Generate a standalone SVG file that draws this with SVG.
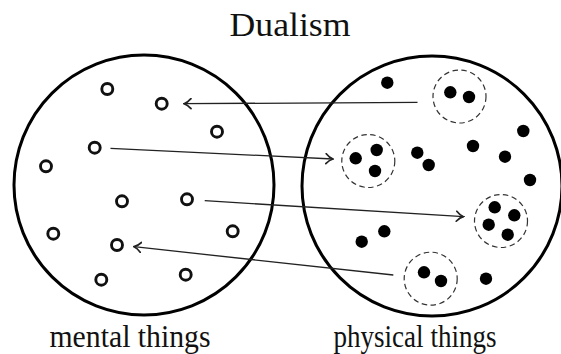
<svg xmlns="http://www.w3.org/2000/svg" width="561" height="354" viewBox="0 0 561 354">
<style>
.big{fill:none;stroke:#000;stroke-width:3}
.m{fill:none;stroke:#111;stroke-width:2.9}
.p{fill:#000}
.grp{fill:none;stroke:#333;stroke-width:1.2;stroke-dasharray:5.5 3.5}
.arr{fill:none;stroke:#222;stroke-width:1.3;marker-end:url(#ah)}
.lbl{font-family:"Liberation Serif","DejaVu Serif",serif;fill:#111;text-anchor:middle}
</style>
<defs>
<marker id="ah" viewBox="-7 -6 9 12" refX="1" refY="0" markerWidth="9" markerHeight="12" markerUnits="userSpaceOnUse" orient="auto">
<path d="M-6,-5 Q-2.5,-1 1,0 Q-2.5,1 -6,5" fill="none" stroke="#222" stroke-width="1.7" stroke-linecap="round"/>
</marker>
</defs>
<rect width="561" height="354" fill="#fff"/>
<text class="lbl" x="290" y="36" font-size="33" textLength="121" lengthAdjust="spacingAndGlyphs">Dualism</text>
<g id="mental">
<circle class="big" cx="144" cy="185" r="130"/>
<circle class="m" cx="107.3" cy="89" r="5.5"/>
<circle class="m" cx="161.7" cy="103.7" r="5.5"/>
<circle class="m" cx="217" cy="131.7" r="5.5"/>
<circle class="m" cx="94.7" cy="147.7" r="5.5"/>
<circle class="m" cx="46" cy="166.3" r="5.5"/>
<circle class="m" cx="122" cy="201.3" r="5.5"/>
<circle class="m" cx="187" cy="199.3" r="5.5"/>
<circle class="m" cx="53.3" cy="233.7" r="5.5"/>
<circle class="m" cx="232.7" cy="231.3" r="5.5"/>
<circle class="m" cx="117" cy="245" r="5.5"/>
<circle class="m" cx="101.3" cy="279.7" r="5.5"/>
<circle class="m" cx="185.7" cy="274.7" r="5.5"/>
</g>
<g id="physical">
<circle class="big" cx="432" cy="186" r="130"/>
<circle class="p" cx="387.3" cy="82.7" r="6.2"/>
<circle class="grp" cx="459.5" cy="96.5" r="26.5"/>
<circle class="p" cx="450.3" cy="92.3" r="6.2"/>
<circle class="p" cx="469" cy="97" r="6.2"/>
<circle class="grp" cx="368.3" cy="161" r="26.5"/>
<circle class="p" cx="355.7" cy="158.3" r="6.2"/>
<circle class="p" cx="376.7" cy="150" r="6.2"/>
<circle class="p" cx="375" cy="171" r="6.2"/>
<circle class="p" cx="417.3" cy="152.7" r="6.2"/>
<circle class="p" cx="428.7" cy="165" r="6.2"/>
<circle class="p" cx="473" cy="146" r="6.2"/>
<circle class="p" cx="523.3" cy="131" r="6.2"/>
<circle class="p" cx="505" cy="156.7" r="6.2"/>
<circle class="p" cx="530" cy="180" r="6.2"/>
<circle class="grp" cx="501" cy="221" r="26.5"/>
<circle class="p" cx="494.7" cy="207.3" r="6.2"/>
<circle class="p" cx="514.3" cy="215.3" r="6.2"/>
<circle class="p" cx="488.7" cy="224.7" r="6.2"/>
<circle class="p" cx="507.7" cy="234.7" r="6.2"/>
<circle class="p" cx="384.3" cy="231.3" r="6.2"/>
<circle class="p" cx="361.7" cy="241.7" r="6.2"/>
<circle class="grp" cx="430.7" cy="278.7" r="26.5"/>
<circle class="p" cx="424" cy="272.3" r="6.2"/>
<circle class="p" cx="441" cy="281" r="6.2"/>
<circle class="p" cx="486" cy="278.7" r="6.2"/>
</g>
<g id="connectors">
<line class="arr" x1="417.5" y1="102.3" x2="184" y2="103.7"/>
<line class="arr" x1="110.5" y1="148.3" x2="333" y2="159"/>
<line class="arr" x1="204.7" y1="200.7" x2="463.5" y2="216.7"/>
<line class="arr" x1="393.3" y1="275" x2="134" y2="246.7"/>
</g>
<text class="lbl" x="130" y="347" font-size="31" textLength="161" lengthAdjust="spacingAndGlyphs">mental things</text>
<text class="lbl" x="415" y="347" font-size="31" textLength="163" lengthAdjust="spacingAndGlyphs">physical things</text>
</svg>
